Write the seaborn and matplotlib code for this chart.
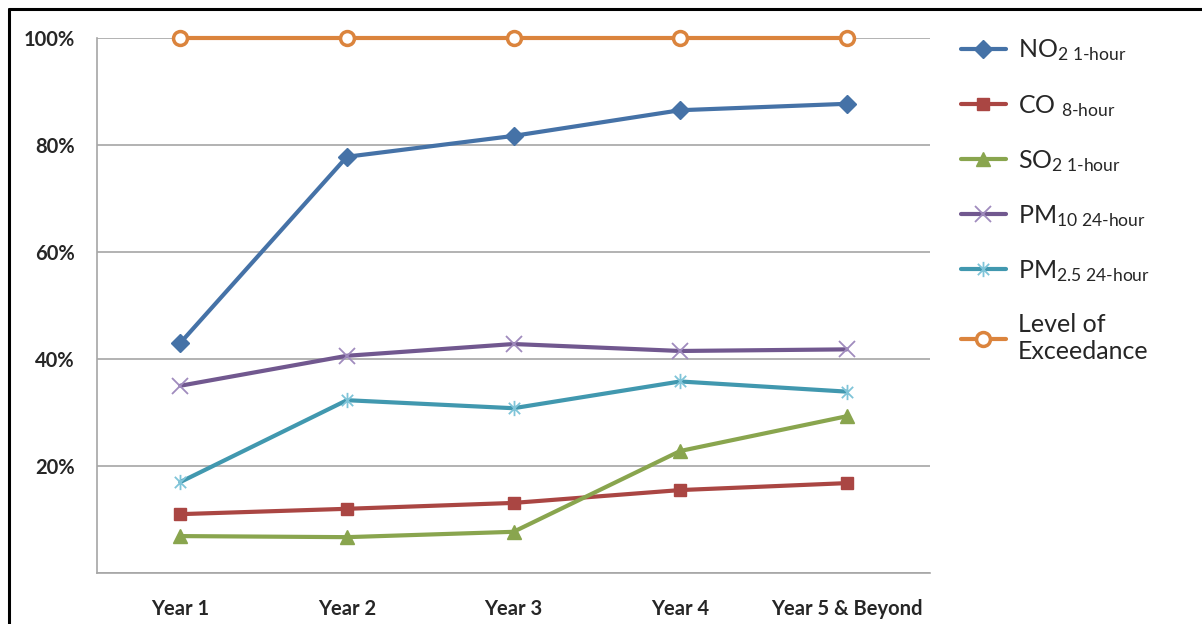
import matplotlib
matplotlib.use("Agg")
import matplotlib.pyplot as plt
import seaborn as sns
from matplotlib.path import Path
from matplotlib.lines import Line2D
from matplotlib.ticker import FixedLocator, PercentFormatter

# Datos (fraccion de excedencia)
years = ["Year 1", "Year 2", "Year 3", "Year 4", "Year 5 & Beyond"]
no2 = [0.430, 0.778, 0.817, 0.865, 0.877]
co = [0.110, 0.120, 0.131, 0.155, 0.168]
so2 = [0.069, 0.067, 0.077, 0.228, 0.293]
pm10 = [0.350, 0.406, 0.428, 0.415, 0.418]
pm25 = [0.170, 0.323, 0.308, 0.358, 0.339]
level = [1.0, 1.0, 1.0, 1.0, 1.0]

labels = [
    r"NO$_{2\ \text{1-hour}}$",
    r"CO $_{\text{8-hour}}$",
    r"SO$_{2\ \text{1-hour}}$",
    r"PM$_{10\ \text{24-hour}}$",
    r"PM$_{2.5\ \text{24-hour}}$",
    "Level of\nExceedance",
]

sns.set_style("white")
plt.rcParams["font.family"] = ["Lato", "DejaVu Sans"]
plt.rcParams["mathtext.fontset"] = "custom"
plt.rcParams["mathtext.rm"] = "Lato"
plt.rcParams["mathtext.it"] = "Lato:italic"
plt.rcParams["mathtext.bf"] = "Lato:bold"

# asterisco estilo Excel (x + linea vertical)
asterisk = Path([(-1, -1), (1, 1), (-1, 1), (1, -1), (0, -1.35), (0, 1.35)],
                [Path.MOVETO, Path.LINETO] * 3)

series = [
    (no2, "#4572A7", "D", 9, "#4572A7", "#4572A7", 1),
    (co, "#AA4643", "s", 9, "#AA4643", "#AA4643", 1),
    (so2, "#89A54E", "^", 10, "#89A54E", "#89A54E", 1),
    (pm10, "#71588F", "x", 11, "#A08BBE", "#A08BBE", 1.3),
    (pm25, "#4198AF", asterisk, 11, "#7FC4D8", "#7FC4D8", 1.3),
    (level, "#DB843D", "o", 10, "white", "#DB843D", 2.5),
]

fig = plt.figure(figsize=(12.02, 6.24), dpi=100)
ax = fig.add_axes([97 / 1202, 1 - 573 / 624, (930 - 97) / 1202, (573 - 38) / 624])

for (vals, col, mk, ms, mfc, mec, mew), lab in zip(series, labels):
    sns.lineplot(x=years, y=vals, ax=ax, color=col, lw=3, marker=mk,
                 markersize=ms, markerfacecolor=mfc, markeredgecolor=mec,
                 markeredgewidth=mew, label=lab, sort=False, clip_on=False,
                 zorder=3)

ax.set_xlim(-0.5, 4.5)
ax.set_ylim(0, 1.0)
ax.set_xlabel("")
ax.set_ylabel("")

ax.yaxis.set_major_locator(FixedLocator([0, 0.2, 0.4, 0.6, 0.8, 1.0]))
ax.yaxis.set_major_formatter(PercentFormatter(1.0, decimals=0))
ylabs = ["", "20%", "40%", "60%", "80%", "100%"]
ax.set_yticklabels(ylabs, fontsize=14.5, fontweight="bold")
ax.grid(axis="y", color="#A6A6A6", lw=1.2)
ax.set_axisbelow(True)

ax.set_xticks(range(len(years)))
ax.set_xticklabels(years, fontsize=14.5, fontweight="bold")
ax.set_xticks([i - 0.5 for i in range(len(years) + 1)], minor=True)
ax.tick_params(axis="x", which="major", length=0, pad=19)
ax.tick_params(axis="x", which="minor", length=8, color="#A6A6A6", width=1.2)
ax.tick_params(axis="y", length=7, color="#A6A6A6", width=1.2, pad=9)

for side in ["top", "right"]:
    ax.spines[side].set_visible(False)
for side in ["left", "bottom"]:
    ax.spines[side].set_color("#A6A6A6")
    ax.spines[side].set_linewidth(1.2)

handles, labs = ax.get_legend_handles_labels()
ax.legend(handles, labs, loc="upper left", bbox_to_anchor=(948 / 1202, 1 - 25 / 624),
          bbox_transform=fig.transFigure, frameon=False, fontsize=18,
          borderpad=0, handlelength=1.8, handletextpad=0.5, labelspacing=1.17)

# marco negro recortado (arriba e izquierda)
fig.add_artist(Line2D([9 / 1202, 9 / 1202], [0, 1 - 9 / 624], color="black", lw=2.2))
fig.add_artist(Line2D([9 / 1202, 1], [1 - 9 / 624, 1 - 9 / 624], color="black", lw=2.2))

fig.savefig("out.png", dpi=100)
